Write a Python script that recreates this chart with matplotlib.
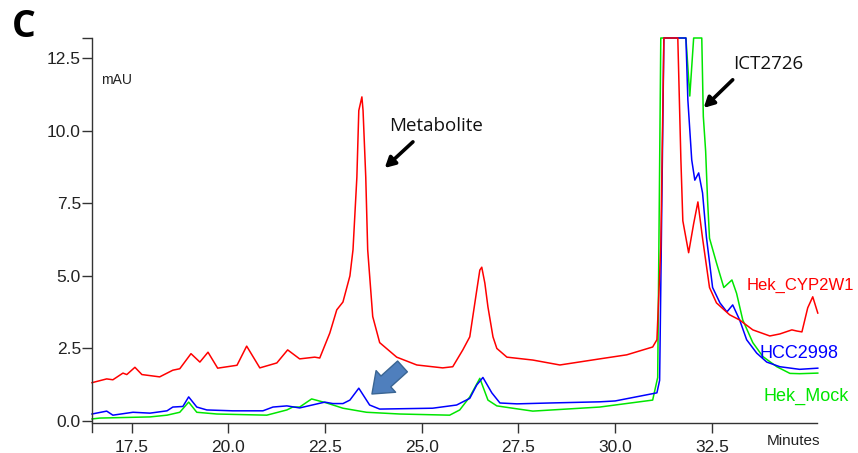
import matplotlib
matplotlib.use('Agg')
from matplotlib import pyplot as plt

# retention time (minutes) / absorbance (mAU)
red_t = [16.47, 16.85, 17.01, 17.27, 17.37, 17.58, 17.76, 18.22, 18.56, 18.74,
         19.03, 19.26, 19.47, 19.72, 20.22, 20.47, 20.81, 21.25, 21.53, 21.84,
         22.23, 22.36, 22.62, 22.80, 22.96, 23.14, 23.22, 23.32, 23.37, 23.45,
         23.48, 23.55, 23.60, 23.73, 23.91, 24.35, 24.87, 25.54, 25.80, 26.06,
         26.24, 26.42, 26.50, 26.55, 26.63, 26.71, 26.84, 26.94, 27.20, 27.87,
         28.57, 29.60, 30.30, 30.97, 31.08, 31.18, 31.26, 31.62, 31.70, 31.75,
         31.90, 32.03, 32.14, 32.26, 32.44, 32.62, 32.96, 33.22, 33.56, 34.00,
         34.26, 34.57, 34.70, 34.83, 34.98, 35.11, 35.24]
red_v = [1.32, 1.45, 1.42, 1.65, 1.60, 1.85, 1.60, 1.52, 1.75, 1.80,
         2.32, 2.03, 2.37, 1.82, 1.92, 2.58, 1.83, 2.00, 2.45, 2.14,
         2.20, 2.17, 3.03, 3.83, 4.10, 5.00, 5.90, 8.40, 10.70, 11.17,
         10.70, 8.40, 5.90, 3.60, 2.70, 2.20, 1.93, 1.83, 1.87, 2.45,
         2.90, 4.50, 5.20, 5.30, 4.75, 3.93, 2.90, 2.50, 2.20, 2.10,
         1.93, 2.14, 2.28, 2.55, 2.80, 6.00, 13.2, 13.2, 9.00, 6.90,
         5.80, 6.80, 7.55, 6.30, 4.60, 4.07, 3.66, 3.48, 3.14, 2.93,
         3.00, 3.14, 3.10, 3.07, 3.90, 4.28, 3.72]

blue_t = [16.47, 16.85, 17.01, 17.53, 17.97, 18.41, 18.56, 18.82, 18.97, 19.18,
          19.44, 20.11, 20.89, 21.15, 21.51, 21.84, 22.49, 22.70, 22.96, 23.14,
          23.37, 23.65, 23.91, 25.28, 25.90, 26.24, 26.42, 26.58, 26.81, 27.02,
          27.46, 28.31, 29.60, 30.00, 31.08, 31.15, 31.26, 31.83, 31.88, 31.98,
          32.06, 32.16, 32.26, 32.36, 32.52, 32.71, 32.89, 33.04, 33.22, 33.40,
          33.66, 33.92, 34.26, 34.77, 35.24]
blue_v = [0.24, 0.34, 0.20, 0.30, 0.27, 0.35, 0.48, 0.50, 0.83, 0.48,
          0.38, 0.35, 0.35, 0.48, 0.52, 0.45, 0.65, 0.60, 0.60, 0.72,
          1.13, 0.55, 0.41, 0.44, 0.55, 0.78, 1.24, 1.50, 0.97, 0.62,
          0.59, 0.62, 0.66, 0.69, 0.97, 1.40, 13.2, 13.2, 11.07, 9.00,
          8.30, 8.55, 7.86, 6.34, 4.60, 4.07, 3.76, 4.00, 3.48, 2.80,
          2.34, 2.03, 1.87, 1.78, 1.82]

green_t = [16.47, 16.67, 17.97, 18.41, 18.74, 18.97, 19.18, 19.70, 20.99, 21.51,
           21.66, 21.84, 22.15, 22.54, 22.96, 23.57, 24.43, 25.72, 25.98, 26.24,
           26.50, 26.71, 26.94, 27.35, 27.87, 29.60, 30.97, 31.10, 31.18, 31.83,
           31.93, 32.03, 32.24, 32.28, 32.34, 32.39, 32.44, 32.62, 32.81, 33.02,
           33.14, 33.30, 33.56, 33.82, 34.18, 34.52, 34.77, 35.24]
green_v = [0.07, 0.10, 0.14, 0.20, 0.30, 0.65, 0.30, 0.24, 0.20, 0.38,
           0.48, 0.48, 0.76, 0.62, 0.44, 0.30, 0.24, 0.20, 0.38, 0.83,
           1.47, 0.72, 0.52, 0.44, 0.34, 0.48, 0.72, 1.50, 13.2, 13.2,
           11.20, 13.2, 13.2, 10.50, 9.30, 7.60, 6.30, 5.45, 4.60, 4.86,
           4.40, 3.48, 2.70, 2.22, 1.87, 1.64, 1.63, 1.65]

x_ticks = [17.5, 20.0, 22.5, 25.0, 27.5, 30.0, 32.5]
y_ticks = [0.0, 2.5, 5.0, 7.5, 10.0, 12.5]

RED, BLUE, GREEN = '#ff0000', '#0000ff', '#00e600'
plt.rcParams['font.family'] = ['Liberation Sans', 'DejaVu Sans']

fig = plt.figure(figsize=(8.58, 4.53), dpi=100)
ax = fig.add_axes([92/858, 21/453, (817-92)/858, (415-21)/453])

ax.plot(green_t, green_v, color=GREEN, lw=1.1, clip_on=False)
ax.plot(blue_t, blue_v, color=BLUE, lw=1.1, clip_on=False)
ax.plot(red_t, red_v, color=RED, lw=1.1, clip_on=False)

ax.set_xlim(16.47, 35.22)
ax.set_ylim(-0.38, 13.2)
ax.spines['top'].set_visible(False)
ax.spines['right'].set_visible(False)
ax.spines['bottom'].set_position(('data', -0.07))
for s in ('left', 'bottom'):
    ax.spines[s].set_color('#333333')
    ax.spines[s].set_linewidth(1.0)
ax.set_xticks(x_ticks)
ax.set_yticks(y_ticks)
ax.set_yticks([13.2], minor=True)
ax.set_xticklabels([f'{v:.1f}' for v in x_ticks])
ax.set_yticklabels([f'{v:.1f}' for v in y_ticks])
ax.tick_params(axis='both', which='both', direction='out', length=7, width=1.0,
               colors='#333333', labelsize=12.5, labelcolor='#222222')
ax.tick_params(axis='y', pad=1)
ax.tick_params(axis='x', pad=5)

ax.text(16.7, 11.76, 'mAU', fontsize=10, va='center', ha='left', color='#222222')
ax.text(34.62, -0.69, 'Minutes', fontsize=11, va='center', ha='center',
        color='#222222', clip_on=False)

ax.text(34.80, 4.66, 'Hek_CYP2W1', color=RED, fontsize=12, ha='center', va='center')
ax.text(34.75, 2.34, 'HCC2998', color=BLUE, fontsize=13, ha='center', va='center')
ax.text(34.93, 0.86, 'Hek_Mock', color=GREEN, fontsize=13, ha='center', va='center')

# annotations
ax.text(25.36, 10.18, 'Metabolite', fontsize=13.5, family='Open Sans',
        ha='center', va='center', color='#111111')
ax.annotate('', xy=(24.04, 8.72), xytext=(24.77, 9.62),
            arrowprops=dict(arrowstyle='-|>,head_length=0.6,head_width=0.32',
                            color='black', lw=2.6, shrinkA=0, shrinkB=0))
ax.text(33.97, 12.32, 'ICT2726', fontsize=13.5, family='Open Sans',
        ha='center', va='center', color='#111111')
ax.annotate('', xy=(32.29, 10.79), xytext=(33.04, 11.76),
            arrowprops=dict(arrowstyle='-|>,head_length=0.6,head_width=0.32',
                            color='black', lw=2.6, shrinkA=0, shrinkB=0))
ax.annotate('', xy=(23.71, 0.93), xytext=(24.50, 1.88),
            arrowprops=dict(arrowstyle='simple,head_length=0.9,head_width=1.4,tail_width=0.7',
                            mutation_scale=15, fc='#4f7fbd', ec='#3a6593', lw=1.0,
                            shrinkA=0, shrinkB=0))

fig.text(0.028, 0.94, 'C', fontsize=27, fontweight='bold', ha='center', va='center',
         family=['Open Sans', 'DejaVu Sans'])

fig.savefig('out.png', dpi=100)
